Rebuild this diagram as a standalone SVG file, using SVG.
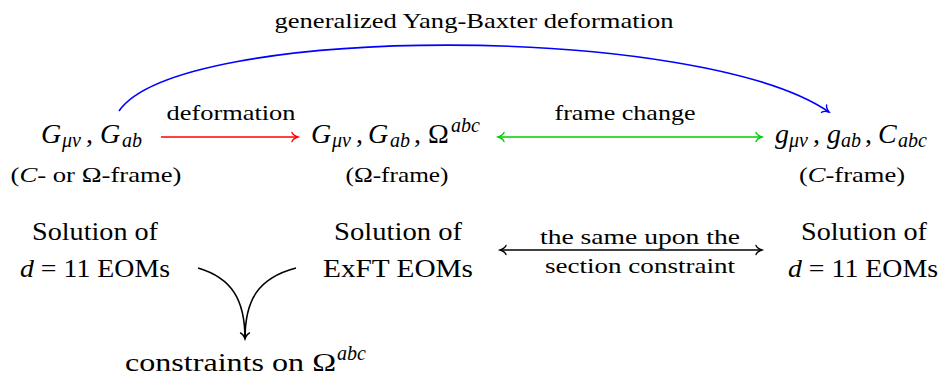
<svg xmlns="http://www.w3.org/2000/svg" width="940" height="379" viewBox="0 0 940 379">
  <style>
    .tx { font-family: "Liberation Serif", "DejaVu Serif", serif; fill: #000; }
    .big { font-size: 26px; }
    .math { font-size: 28px; }
    .lbl { font-size: 22px; }
    .par { font-size: 21px; }
    .it { font-style: italic; }
    .sub { font-size: 20px; font-style: italic; }
    .edge { fill: none; stroke-width: 1.6; }
  </style>
  <defs>
    <marker id="tip-red" markerWidth="12" markerHeight="12" refX="0" refY="0" viewBox="-8 -6 10 12" orient="auto-start-reverse" markerUnits="userSpaceOnUse">
      <path d="M-6,-4.5 C-5,-2 -1.5,-0.5 0,0 C-1.5,0.5 -5,2 -6,4.5" fill="none" stroke="#ff0000" stroke-width="1.4" stroke-linecap="round"/>
    </marker>
    <marker id="tip-green" markerWidth="12" markerHeight="12" refX="0" refY="0" viewBox="-8 -6 10 12" orient="auto-start-reverse" markerUnits="userSpaceOnUse">
      <path d="M-6,-4.5 C-5,-2 -1.5,-0.5 0,0 C-1.5,0.5 -5,2 -6,4.5" fill="none" stroke="#00cc00" stroke-width="1.4" stroke-linecap="round"/>
    </marker>
    <marker id="tip-blue" markerWidth="12" markerHeight="12" refX="0" refY="0" viewBox="-8 -6 10 12" orient="auto-start-reverse" markerUnits="userSpaceOnUse">
      <path d="M-6,-4.5 C-5,-2 -1.5,-0.5 0,0 C-1.5,0.5 -5,2 -6,4.5" fill="none" stroke="#0000ff" stroke-width="1.4" stroke-linecap="round"/>
    </marker>
    <marker id="tip-black" markerWidth="12" markerHeight="12" refX="0" refY="0" viewBox="-8 -6 10 12" orient="auto-start-reverse" markerUnits="userSpaceOnUse">
      <path d="M-6,-4.5 C-5,-2 -1.5,-0.5 0,0 C-1.5,0.5 -5,2 -6,4.5" fill="none" stroke="#000" stroke-width="1.4" stroke-linecap="round"/>
    </marker>
  </defs>

  <!-- connectors and their labels -->
  <g id="connectors">
    <path class="edge" stroke="#0000ff" d="M119,111 C180,23 700,23 829,112" marker-end="url(#tip-blue)"/>
    <text class="tx lbl" x="474" y="28" text-anchor="middle" textLength="399" lengthAdjust="spacingAndGlyphs">generalized Yang-Baxter deformation</text>

    <path class="edge" stroke="#ff0000" d="M161,137 H298" marker-end="url(#tip-red)"/>
    <text class="tx lbl" x="231" y="120" text-anchor="middle" textLength="129" lengthAdjust="spacingAndGlyphs">deformation</text>

    <path class="edge" stroke="#00cc00" d="M498,137 H762" marker-start="url(#tip-green)" marker-end="url(#tip-green)"/>
    <text class="tx lbl" x="625" y="120" text-anchor="middle" textLength="141" lengthAdjust="spacingAndGlyphs">frame change</text>

    <path class="edge" stroke="#000" d="M500,250 H762" marker-start="url(#tip-black)" marker-end="url(#tip-black)"/>
    <text class="tx lbl" x="640" y="244" text-anchor="middle" textLength="200" lengthAdjust="spacingAndGlyphs">the same upon the</text>
    <text class="tx lbl" x="640" y="273" text-anchor="middle" textLength="190" lengthAdjust="spacingAndGlyphs">section constraint</text>

    <path class="edge" stroke="#000" d="M198,268 C232,278 245,300 245,339"/>
    <path class="edge" stroke="#000" d="M296,268 C258,278 245,300 245,339" marker-end="url(#tip-black)"/>
  </g>

  <!-- top row -->
  <g id="node-G">
    <text class="tx math" y="143">
      <tspan class="it" x="41">G</tspan><tspan class="sub" x="62" dy="4">μν</tspan><tspan x="86" dy="-4">,</tspan>
      <tspan class="it" x="100">G</tspan><tspan class="sub" x="122" dy="4">ab</tspan>
    </text>
    <text class="tx par" x="96" y="182" text-anchor="middle" textLength="171" lengthAdjust="spacingAndGlyphs">(<tspan class="it">C</tspan>- or Ω-frame)</text>
  </g>
  <g id="node-Omega">
    <text class="tx math" y="143">
      <tspan class="it" x="311">G</tspan><tspan class="sub" x="332" dy="4">μν</tspan><tspan x="356" dy="-4">,</tspan>
      <tspan class="it" x="368">G</tspan><tspan class="sub" x="390" dy="4">ab</tspan><tspan x="414" dy="-4">,</tspan>
      <tspan x="428">Ω</tspan><tspan class="sub" x="451" dy="-11">abc</tspan>
    </text>
    <text class="tx par" x="397" y="182" text-anchor="middle" textLength="103" lengthAdjust="spacingAndGlyphs">(Ω-frame)</text>
  </g>
  <g id="node-C">
    <text class="tx math" y="143">
      <tspan class="it" x="775">g</tspan><tspan class="sub" x="789" dy="4">μν</tspan><tspan x="813" dy="-4">,</tspan>
      <tspan class="it" x="827">g</tspan><tspan class="sub" x="841" dy="4">ab</tspan><tspan x="865" dy="-4">,</tspan>
      <tspan class="it" x="878">C</tspan><tspan class="sub" x="898" dy="4">abc</tspan>
    </text>
    <text class="tx par" x="852" y="182" text-anchor="middle" textLength="106" lengthAdjust="spacingAndGlyphs">(<tspan class="it">C</tspan>-frame)</text>
  </g>

  <!-- bottom row -->
  <g id="node-sol11-left">
    <text class="tx big" x="95" y="240" text-anchor="middle" textLength="126" lengthAdjust="spacingAndGlyphs">Solution of</text>
    <text class="tx big" x="95" y="277" text-anchor="middle" textLength="150" lengthAdjust="spacingAndGlyphs"><tspan class="it">d</tspan> = 11 EOMs</text>
  </g>
  <g id="node-solExFT">
    <text class="tx big" x="398" y="240" text-anchor="middle" textLength="128" lengthAdjust="spacingAndGlyphs">Solution of</text>
    <text class="tx big" x="398" y="277" text-anchor="middle" textLength="150" lengthAdjust="spacingAndGlyphs">ExFT EOMs</text>
  </g>
  <g id="node-sol11-right">
    <text class="tx big" x="864" y="240" text-anchor="middle" textLength="126" lengthAdjust="spacingAndGlyphs">Solution of</text>
    <text class="tx big" x="863" y="277" text-anchor="middle" textLength="150" lengthAdjust="spacingAndGlyphs"><tspan class="it">d</tspan> = 11 EOMs</text>
  </g>
  <g id="node-constraints">
    <text class="tx big" y="371"><tspan x="125" textLength="211" lengthAdjust="spacingAndGlyphs">constraints on Ω</tspan><tspan class="sub" x="337" dy="-11">abc</tspan></text>
  </g>
</svg>
